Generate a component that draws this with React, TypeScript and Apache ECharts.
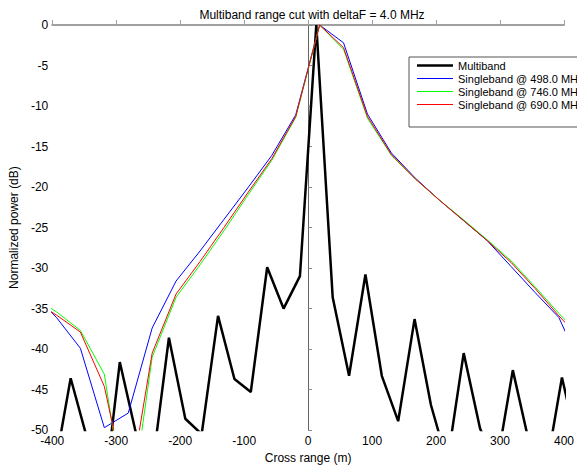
import React, { useEffect, useRef } from "react";
import * as echarts from "echarts";

const titleText = "Multiband range cut with deltaF = 4.0 MHz";
const seriesNames = [
  "Multiband",
  "Singleband @ 498.0 MHz",
  "Singleband @ 746.0 MHz",
  "Singleband @ 690.0 MHz",
];

const multibandRange = [
  -422.4, -396.8, -371.2, -345.6, -320.0, -294.4, -268.8, -243.2, -217.6, -192.0,
  -166.4, -140.8, -115.2, -89.6, -64.0, -38.4, -12.8, 12.8, 38.4, 64.0, 89.6,
  115.2, 140.8, 166.4, 192.0, 217.6, 243.2, 268.8, 294.4, 320.0, 345.6, 371.2,
  396.8, 422.4,
];
const multibandPower = [
  -56, -55, -43.6, -51, -58.8, -41.6, -50.5, -54.4, -38.6, -48.6, -50.5, -35.9,
  -43.7, -45.3, -29.9, -35.0, -31.0, 0, -33.6, -43.3, -30.8, -43.3, -48.9, -36.3,
  -46.9, -54, -40.5, -49.8, -54.5, -42.6, -51.6, -55.3, -43.5, -52.3,
];

const singlebandRange = [
  -430.8, -393.4, -356.0, -318.6, -281.2, -243.8, -206.4, -169.0, -131.6, -94.2,
  -56.8, -19.4, 18.0, 55.4, 92.8, 130.2, 167.6, 205.0, 242.4, 279.8, 317.2, 354.6,
  392.0, 429.4,
];
const power498 = [
  -33.0, -36.1, -39.9, -49.7, -47.9, -37.4, -31.6, -27.9, -24.0, -20.1, -16.1,
  -11.1, 0, -2.2, -11.0, -15.8, -18.9, -21.6, -24.1, -26.6, -29.8, -33.0, -36.1,
  -42.6,
];
const power746 = [
  -33.5, -35.4, -37.7, -43.1, -62, -41.0, -33.6, -29.6, -25.4, -21.0, -16.7,
  -11.4, 0, -3.0, -11.5, -16.1, -19.0, -21.6, -24.0, -26.5, -29.1, -32.3, -35.6,
  -38.6,
];
const power690 = [
  -34.0, -35.8, -37.9, -44.6, -58.3, -40.5, -33.2, -29.2, -25.0, -20.7, -16.5,
  -11.3, 0, -2.8, -11.3, -16.0, -19.0, -21.6, -24.1, -26.6, -29.3, -32.5, -35.9,
  -39.0,
];

const colors = ["#000000", "#0000ff", "#00ff00", "#ff0000"];
const widths = [2.5, 1, 1, 1];

function pairs(xs: number[], ys: number[]) {
  return xs.map((x, i) => [x, ys[i]]);
}

export default function App() {
  const ref = useRef<HTMLDivElement>(null);
  useEffect(() => {
    if (!ref.current) return;
    const chart = echarts.init(ref.current, undefined, { renderer: "svg" });
    const font = "Arial, 'Liberation Sans', sans-serif";
    const datasets = [
      pairs(multibandRange, multibandPower),
      pairs(singlebandRange, power498),
      pairs(singlebandRange, power746),
      pairs(singlebandRange, power690),
    ];
    chart.setOption({
      animation: false,
      backgroundColor: "#ffffff",
      textStyle: { fontFamily: font },
      title: {
        text: titleText,
        left: 307,
        textAlign: "center",
        top: 4,
        textStyle: { fontSize: 12, fontWeight: "normal", color: "#000", fontFamily: font },
      },
      grid: { left: 48, width: 519, top: 25, height: 409 },
      legend: {
        orient: "vertical",
        left: 409,
        top: 57,
        padding: [3, 60, 17, 8],
        itemWidth: 36,
        itemHeight: 10,
        itemGap: 2,
        borderColor: "#555",
        borderWidth: 1,
        backgroundColor: "#fff",
        textStyle: { fontSize: 11, color: "#000", fontFamily: font },
        data: seriesNames.map((n, i) => ({
          name: n,
          icon: i === 0 ? "path://M0,0H36V2.5H0Z" : "path://M0,0H36V1H0Z",
          itemStyle: { color: colors[i], borderWidth: 0 },
        })),
      },
      xAxis: {
        type: "value",
        min: -400,
        max: 400,
        interval: 100,
        name: "Cross range (m)",
        nameLocation: "middle",
        nameGap: 19,
        nameTextStyle: { fontSize: 12, color: "#000", fontFamily: font },
        axisLine: { show: true, lineStyle: { color: "#a0a0a0", width: 2 } },
        axisTick: { show: true, inside: true, length: 5, lineStyle: { color: "#a0a0a0" } },
        axisLabel: { fontSize: 12, color: "#000", margin: 5, fontFamily: font },
        splitLine: { show: false },
      },
      yAxis: {
        type: "value",
        min: -50,
        max: 0,
        interval: 5,
        name: "Normalized power (dB)",
        nameLocation: "middle",
        nameGap: 27,
        nameTextStyle: { fontSize: 12, color: "#000", fontFamily: font },
        axisLine: { show: true, lineStyle: { color: "#666", width: 1 } },
        axisTick: { show: true, inside: true, length: 4, lineStyle: { color: "#888" } },
        axisLabel: { fontSize: 12, color: "#000", margin: 4, fontFamily: font },
        splitLine: { show: false },
      },
      series: seriesNames.map((n, i) => ({
        name: n,
        type: "line",
        data: datasets[i],
        symbol: "none",
        clip: true,
        color: colors[i],
        lineStyle: { color: colors[i], width: widths[i] },
        itemStyle: { color: colors[i] },
        z: 2 + i,
      })),
    });
    return () => chart.dispose();
  }, []);
  return (
    <div
      ref={ref}
      style={{ position: "fixed", left: 0, top: 0, width: 577, height: 469 }}
    />
  );
}
